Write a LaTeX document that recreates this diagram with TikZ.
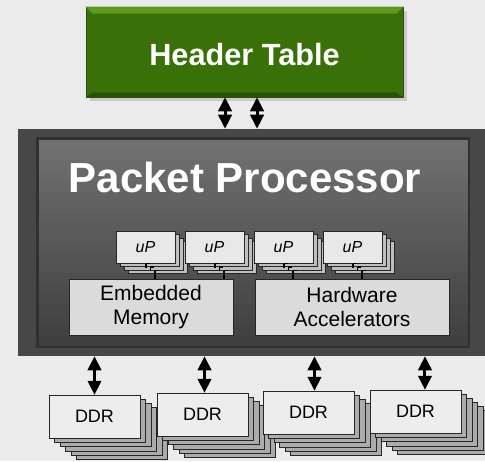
\documentclass[tikz,border=0pt]{standalone}
\usepackage{fontspec}
\setmainfont{Liberation Sans}
\usetikzlibrary{arrows.meta,shadows}

\definecolor{pagebg}{HTML}{EBEBEB}
\definecolor{hdrgreen}{HTML}{3A7008}
\definecolor{hdrlight}{HTML}{5E9A22}
\definecolor{hdrdark}{HTML}{2A5204}
\definecolor{chipgray}{HTML}{474747}
\definecolor{framegray}{HTML}{303030}

\begin{document}
\begin{tikzpicture}[
  x=0.75pt, y=-0.75pt,
  >={Triangle[width=10pt,length=10.5pt]},
  link/.style={<->, line width=2.25pt, black},
  header/.style={rectangle, fill=hdrgreen, draw=hdrdark, minimum width=237.75pt, minimum height=67.5pt, inner sep=0pt},
  chip/.style={rectangle, fill=chipgray, minimum width=354pt, minimum height=170.25pt, inner sep=0pt},
  title/.style={text=white, font=\fontsize{31.5}{36}\selectfont\bfseries},
  upcard/.style={rectangle, draw=black!85, fill=black!9, minimum width=44.25pt, minimum height=24pt, inner sep=0pt, font=\fontsize{12}{14}\selectfont\itshape},
  upback/.style={draw=black!85, fill=black!25},
  unit/.style={rectangle, draw=black!85, fill=black!14, align=center, minimum height=42pt, inner sep=0pt, font=\fontsize{15.75}{17.5}\selectfont, drop shadow={opacity=0.3, shadow xshift=1pt, shadow yshift=-1pt}},
  ddrcard/.style={rectangle, draw=black!85, fill=black!7, minimum width=68.25pt, minimum height=32.6pt, inner sep=0pt, font=\fontsize{13.5}{16}\selectfont},
  ddrback/.style={draw=black!85, fill=black!33}
]
\clip (0,0) rectangle (485,461);
\fill[pagebg] (0,0) rectangle (485,461);

% Header table on top.
\node[header, drop shadow={opacity=0.3}] (hdr) at (244.5,52) {};
\fill[hdrlight] (hdr.north west) -- (hdr.north east) -- ++(-7,7) -- ([shift={(7,7)}]hdr.north west) -- cycle;
\fill[hdrdark] (hdr.south west) -- (hdr.south east) -- ++(-7,-5) -- ([shift={(7,-5)}]hdr.south west) -- cycle;
\node[text=white, font=\fontsize{23}{27}\selectfont\bfseries, anchor=base] (hdrtxt) at (244.5,65) {Header Table};

% Packet processor body, panel darkens towards the bottom.
\node[chip] (pp) at (254,242.5) {};
\fill[framegray] (36,137) rectangle (470,348);
\foreach \i in {0,...,19}
  \fill[black!\the\numexpr56+\i\relax] (38.5,{139.5+10.3*\i}) rectangle (467.5,{min(345.5,150.3+10.3*\i)});
\node[title, anchor=base] (pptxt) at (245,192.7) {Packet Processor};

% uP stacks.
\foreach \x [count=\k] in {116,185,254,323} {
  \foreach \i in {3,2,1}
    \draw[upback] ({\x+4*\i},{231+3.5*\i}) rectangle +(59,32);
  \node[upcard] (up\k) at ({\x+29.5},247) {uP};
  \foreach \i in {0,1,2} {
    \draw[black, line width=0.9pt] ({\x+30+4.5*\i},{263.5+3.5*\i}) -- ++(0,4);
    \draw[black, line width=0.9pt] ({\x+30+4.5*\i},{263.5+3.5*\i}) -- ++(3.5,0);
  }
  \draw[black, line width=0.9pt] ({\x+39},274) -- ({\x+39},279);
}

% Memory and accelerators.
\node[unit, minimum width=123pt] (emb) at (151,307) {Embedded\\Memory};
\node[unit, minimum width=145.5pt] (hwa) at (352,307) {Hardware\\Accelerators};

% DDR stacks.
\foreach \x/\y [count=\k] in {49/395, 157/393, 263/391, 370/390} {
  \foreach \i in {5,4,3,2,1}
    \draw[ddrback] ({\x+5.5*\i},{\y+4.1*\i}) rectangle +(91,43.5);
  \node[ddrcard] (ddr\k) at ({\x+45.5},{\y+21.75}) {DDR};
}

% Links.
\draw[link] ([xshift=-14.6pt]hdr.south) -- ([xshift=-14.6pt]hdr.south |- pp.north);
\draw[link] ([xshift=9.4pt]hdr.south) -- ([xshift=9.4pt]hdr.south |- pp.north);
\draw[link] (ddr1.north |- pp.south) -- (ddr1.north);
\draw[link] ([xshift=1.5pt]ddr2.north |- pp.south) -- ([xshift=1.5pt]ddr2.north);
\draw[link] ([xshift=4.5pt]ddr3.north |- pp.south) -- ([xshift=4.5pt]ddr3.north);
\draw[link] ([xshift=7.1pt]ddr4.north |- pp.south) -- ([xshift=7.1pt]ddr4.north);

\end{tikzpicture}
\end{document}
